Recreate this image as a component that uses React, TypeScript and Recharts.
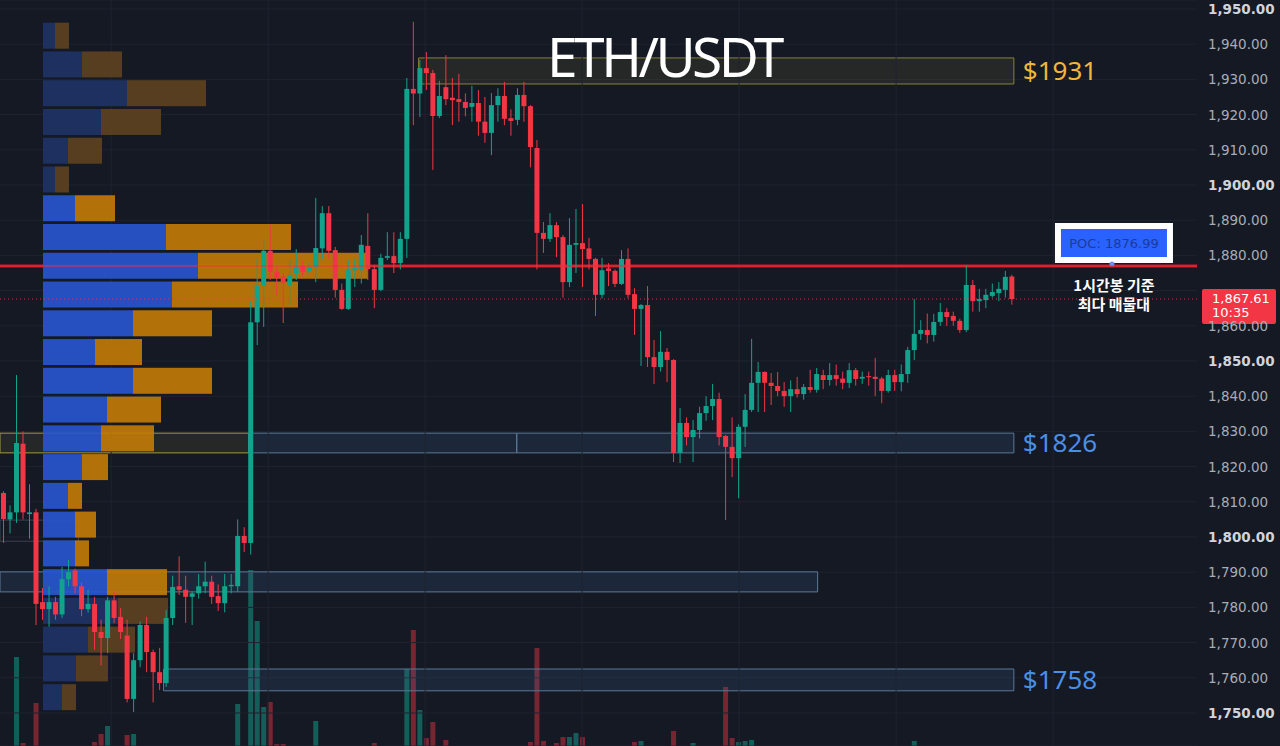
import React from 'react';
import {
  ComposedChart,
  Bar,
  XAxis,
  YAxis,
  CartesianGrid,
  ReferenceLine,
  ReferenceArea,
  ReferenceDot,
} from 'recharts';

// OHLC (one entry per candle, left to right)
const opens = [
  1812.5, 1805, 1807, 1826.5, 1806.5, 1807, 1781.5, 1779.5, 1781.5, 1778,
  1788, 1790.5, 1786, 1779.5, 1781, 1773, 1771.3, 1782, 1777.3, 1772,
  1754, 1765, 1775, 1767.3, 1761.6, 1758.5, 1777, 1786, 1785, 1783,
  1784, 1786, 1787.3, 1783.2, 1781.2, 1786, 1786, 1800.3, 1798.3, 1861,
  1871.3, 1881.3, 1875.3, 1874, 1871.6, 1875, 1877, 1875.6, 1876.7, 1882,
  1892, 1881.5, 1870.2, 1864.8, 1875.8, 1875.8, 1882.7, 1876.1, 1870.2, 1879.3,
  1879.8, 1877.8, 1884.7, 1927.3, 1926, 1933.2, 1931.8, 1919.6, 1927.8, 1924.8,
  1924.4, 1923.6, 1922.2, 1923.3, 1918, 1914.8, 1922.7, 1925.3, 1919, 1918.5,
  1925.6, 1922.4, 1910.5, 1886.4, 1884.7, 1888.6, 1885.2, 1872.4, 1883, 1883.5,
  1882, 1879, 1868.8, 1876.3, 1875.6, 1871.9, 1879, 1869, 1864.8, 1865.9,
  1851.1, 1848.3, 1852.6, 1850.3, 1823.9, 1832.4, 1828.4, 1830.4, 1835.2, 1837.2,
  1839.2, 1828.7, 1825.6, 1822.4, 1831.3, 1836.1, 1843.8, 1846.9, 1843.8, 1842.9,
  1841.5, 1840, 1842, 1840.6, 1842.6, 1841.8, 1846, 1844.6, 1846, 1845,
  1843.8, 1847.4, 1845, 1845.7, 1845.5, 1845, 1841.5, 1846, 1844, 1846.3,
  1853.1, 1857.7, 1858.8, 1857.4, 1861.1, 1863.9, 1862.8, 1861.4, 1858.8, 1871.6,
  1867, 1867.3, 1868.5, 1869.3, 1870.2, 1874,
];
const highs = [
  1813, 1809, 1846, 1830, 1815, 1808, 1785.5, 1786, 1783, 1791.5,
  1793.5, 1791, 1787, 1785, 1783, 1776.5, 1783, 1784.5, 1779.8, 1776.5,
  1767, 1776, 1777.3, 1768, 1768.5, 1779.3, 1789, 1794.5, 1789, 1784.5,
  1789.5, 1793, 1789, 1786.5, 1789.5, 1789.5, 1805, 1802.8, 1867, 1879,
  1884.4, 1888.6, 1876.7, 1875, 1879, 1881.8, 1878.4, 1878, 1896.3, 1894,
  1894, 1882.4, 1872, 1878.8, 1879, 1885.8, 1892, 1877.3, 1880.5, 1886.6,
  1886.6, 1886.6, 1930.4, 1946.4, 1935.5, 1937.8, 1932.7, 1929.6, 1936.9, 1930.4,
  1931.6, 1926, 1928.2, 1927, 1925, 1926.1, 1927.5, 1929.3, 1921.5, 1927.5,
  1929.3, 1922.7, 1912.8, 1889.5, 1892, 1889.5, 1885.8, 1890.6, 1893.2, 1894.6,
  1885, 1879.3, 1879.3, 1877.8, 1876, 1881.5, 1882, 1870.7, 1866.2, 1871.3,
  1856, 1858.5, 1853.7, 1850.5, 1836.6, 1834, 1833.2, 1837, 1840, 1843.5,
  1841, 1829, 1834, 1832, 1840.6, 1856.3, 1849.7, 1847, 1846.6, 1846.9,
  1844, 1844.5, 1845.5, 1843.5, 1847.5, 1848, 1847.5, 1849.4, 1849, 1847,
  1849.4, 1848, 1847, 1847, 1850.9, 1845.5, 1847.5, 1847.5, 1849, 1854,
  1867.6, 1861.6, 1863.5, 1863.4, 1866.5, 1865, 1864, 1862, 1877.3, 1873,
  1870.5, 1870.5, 1872, 1872.4, 1875.6, 1874.5,
];
const lows = [
  1798.3, 1801, 1804, 1805, 1799.5, 1775, 1776.5, 1774.5, 1776.5, 1777,
  1786, 1784, 1777.5, 1778.5, 1768, 1763.5, 1767, 1775.5, 1771, 1753,
  1750.3, 1763, 1761.6, 1753, 1756.5, 1757.4, 1775, 1783.5, 1775.6, 1775,
  1782.5, 1784, 1781, 1779, 1778.6, 1784, 1784.5, 1795.7, 1795, 1854.5,
  1859.7, 1873, 1868.7, 1860.8, 1866, 1873, 1874, 1874.5, 1872.4, 1879,
  1879, 1868, 1864.5, 1864.5, 1871, 1872, 1873, 1865, 1869.8, 1878.7,
  1875, 1876, 1879.3, 1917, 1919.3, 1927, 1904.3, 1919, 1922.7, 1917,
  1918, 1919.5, 1918, 1914, 1912, 1908.5, 1918, 1917, 1914, 1917,
  1918, 1905, 1876, 1880.7, 1883.8, 1879.5, 1868, 1871, 1875, 1871,
  1876, 1862.8, 1867.8, 1871.3, 1871, 1871.6, 1867.8, 1857.4, 1848.6, 1848.3,
  1843.5, 1847, 1844, 1821.3, 1821, 1826, 1821.3, 1828, 1833, 1833.2,
  1826, 1804.8, 1817, 1811, 1825.6, 1835.5, 1835.5, 1835.5, 1837.5, 1840,
  1837, 1835.5, 1839.6, 1839, 1841, 1841, 1842, 1843, 1843, 1842,
  1842.3, 1843, 1843.5, 1843, 1840, 1838, 1841, 1841.5, 1841.4, 1843.8,
  1850.3, 1856, 1855, 1855.5, 1860, 1860, 1860, 1858, 1858.2, 1864,
  1864, 1865, 1868, 1867, 1868, 1866,
];
const closes = [
  1805.1, 1807, 1826.7, 1807, 1807, 1781, 1779.5, 1781.5, 1778, 1788,
  1790, 1786, 1779.5, 1781, 1773, 1771.3, 1782, 1777, 1773, 1754,
  1765, 1775, 1767.3, 1761.6, 1758.5, 1777, 1785.8, 1785, 1783, 1784,
  1786, 1787.3, 1783, 1781.2, 1786, 1786.4, 1800.3, 1798.3, 1861, 1871.3,
  1881.3, 1875.3, 1873.6, 1872.2, 1874.4, 1876.7, 1875.3, 1876.7, 1882.1, 1892,
  1881.3, 1870.2, 1864.8, 1875.8, 1876.5, 1883, 1876.1, 1870.2, 1879.3, 1879.8,
  1877.8, 1884.7, 1927.3, 1926, 1933.2, 1931.8, 1919.6, 1925.3, 1924.4, 1924.1,
  1923.6, 1921.9, 1923.3, 1918, 1914.8, 1922.7, 1925.3, 1918.8, 1918.2, 1925.6,
  1922.4, 1910.8, 1886.4, 1884.7, 1888.6, 1885.2, 1872.4, 1883, 1883.5, 1881.8,
  1879, 1868.8, 1875.8, 1875.6, 1871.9, 1879, 1868.8, 1864.8, 1865.9, 1851.1,
  1848.3, 1852.6, 1850.3, 1823.9, 1832.4, 1828.4, 1830.4, 1835.2, 1837.2, 1839.2,
  1828.4, 1825.6, 1822.4, 1831.3, 1836.1, 1843.8, 1846.9, 1843.8, 1842.9, 1841.5,
  1840, 1842, 1840.6, 1842.6, 1841.8, 1846.3, 1844.6, 1846, 1844.9, 1843.8,
  1847.4, 1844.9, 1845.5, 1845.4, 1844.9, 1841.5, 1846, 1844, 1846.3, 1853.1,
  1857.7, 1858.8, 1857.4, 1861.1, 1863.9, 1862.5, 1861.4, 1858.8, 1871.6, 1867,
  1867.6, 1868.8, 1869.6, 1870.5, 1873.9, 1867.61,
];

// volume (k), only the bars that rise into view
const volumes: Record<number, number> = {
  2: 8.9, 3: 0.3, 5: 4.3, 14: 0.4, 15: 1.2, 16: 2.0, 19: 1.1, 20: 1.2,
  36: 4.2, 38: 17.6, 39: 12.5, 40: 3.9, 41: 4.4, 42: 0.2, 43: 0.2, 48: 2.5,
  57: 0.3, 62: 7.7, 63: 11.6, 64: 3.6, 65: 0.8, 66: 2.4, 68: 0.6,
  81: 0.4, 82: 9.8, 83: 0.5, 85: 0.3, 86: 0.9, 87: 0.9, 88: 1.3, 89: 0.9,
  97: 0.4, 98: 0.5, 103: 1.5, 106: 0.3, 111: 5.9, 112: 0.8, 113: 0.4,
  114: 0.5, 115: 0.6, 140: 0.5,
};

// volume profile rows, top (1946.4) to bottom (1750.3)
const vpHigh = 1946.4;
const vpLow = 1750.3;
const vpBuy = [1.2, 3.9, 8.4, 5.8, 2.5, 1.2, 3.2, 12.3, 15.5, 12.9, 9.0, 5.2, 9.0, 6.4, 5.8, 3.9, 2.5, 3.2, 3.2, 6.4, 7.5, 4.5, 3.3, 1.9];
const vpSell = [1.4, 4.0, 7.9, 6.0, 3.4, 1.4, 4.0, 12.5, 17.0, 12.6, 7.9, 4.7, 7.9, 5.4, 5.3, 2.6, 1.4, 2.1, 1.4, 6.0, 5.0, 4.7, 3.2, 1.4];
const valueAreaRows = [6, 19];

const priceTicks = [
  1740, 1750, 1760, 1770, 1780, 1790, 1800, 1810, 1820, 1830, 1840,
  1850, 1860, 1870, 1880, 1890, 1900, 1910, 1920, 1930, 1940, 1950,
];
const timeGridIdx = [17, 41, 65, 89, 113, 137, 161];

const POC = 1876.99;
const LAST = 1867.61;
const SLOTS = 184;
const Y_DOMAIN = [1740.62, 1952.56];

const BG = '#151924';
const GRID = '#1f2330';
const UP = '#12a38c';
const DOWN = '#f23645';

const data = Array.from({ length: SLOTS }, (_, i) => ({
  i,
  open: opens[i] ?? null,
  high: highs[i] ?? null,
  low: lows[i] ?? null,
  close: closes[i] ?? null,
  vol: i < opens.length ? volumes[i] ?? 0 : null,
}));

const rowH = (vpHigh - vpLow) / vpBuy.length;
const vpRows = vpBuy.map((buy, r) => ({
  mid: vpHigh - (r + 0.5) * rowH,
  buy,
  sell: vpSell[r],
  va: r >= valueAreaRows[0] && r <= valueAreaRows[1],
}));

const fmt = (v: number) =>
  v.toLocaleString('en-US', { minimumFractionDigits: 2, maximumFractionDigits: 2 });

const Candle = (props: any) => {
  const { x, y, width, height, payload } = props;
  if (!payload || payload.open == null) return null;
  const { open, high, low, close } = payload;
  const top = Math.min(y, y + height);
  const h = Math.abs(height);
  const ppu = h / (high - low);
  const color = close >= open ? UP : DOWN;
  const bodyTop = top + (high - Math.max(open, close)) * ppu;
  const bodyH = Math.max(1, Math.abs(open - close) * ppu);
  const cx = x + width / 2;
  return (
    <g>
      <line x1={cx} x2={cx} y1={top} y2={top + h} stroke={color} strokeWidth={1} />
      <rect x={x} y={bodyTop} width={width} height={bodyH} fill={color} />
    </g>
  );
};

const VolBar = (props: any) => {
  const { x, y, width, height, payload } = props;
  if (!payload || !payload.vol) return null;
  const up = payload.close >= payload.open;
  return (
    <rect
      x={x}
      y={Math.min(y, y + height)}
      width={width}
      height={Math.abs(height)}
      fill={up ? UP : DOWN}
      fillOpacity={up ? 0.5 : 0.45}
    />
  );
};

const ProfileBar = (kind: 'buy' | 'sell') => (props: any) => {
  const { x, y, width, height, payload } = props;
  if (!payload) return null;
  const fill =
    kind === 'buy' ? (payload.va ? '#2855d0' : '#1f3366') : payload.va ? '#c47b08' : '#5e4320';
  return <rect x={x} y={y} width={width} height={height} fill={fill} fillOpacity={0.9} />;
};

const PriceTick = ({ x, y, payload }: any) => {
  const v = payload.value;
  // the last-price tag sits over this one
  if (v === 1870) return null;
  const major = v % 50 === 0;
  return (
    <text
      x={x + 3}
      y={y}
      dy={5}
      fill={major ? '#d1d4dc' : '#a9acb6'}
      fontWeight={major ? 700 : 400}
      fontSize={13.5}
      fontFamily="DejaVu Sans"
    >
      {fmt(v)}
    </text>
  );
};

const PocTag = ({ cx, cy }: any) => (
  <g>
    <rect x={cx - 57} y={cy - 43} width={118} height={40} fill="#ffffff" />
    <rect x={cx - 51} y={cy - 37} width={106} height={28} fill="#2962ff" />
    <text x={cx + 2} y={cy - 18} textAnchor="middle" fontSize={13} fill="#1c3b9a" fontFamily="DejaVu Sans">
      {`POC: ${POC.toFixed(2)}`}
    </text>
    <circle cx={cx} cy={cy - 2} r={2.5} fill="#6f8ff0" />
    <text x={cx + 2} y={cy + 25} textAnchor="middle" fontSize={15} fontWeight={700} fill="#ffffff" fontFamily="Noto Sans CJK KR">
      1시간봉 기준
    </text>
    <text x={cx + 2} y={cy + 44} textAnchor="middle" fontSize={15} fontWeight={700} fill="#ffffff" fontFamily="Noto Sans CJK KR">
      최다 매물대
    </text>
  </g>
);

const PriceTag = ({ cx, cy }: any) => (
  <g>
    <rect x={cx + 5} y={cy - 10} width={74} height={35} rx={2} fill={DOWN} />
    <text x={cx + 15} y={cy + 4} fontSize={13} fill="#ffffff" fontFamily="DejaVu Sans">
      {fmt(LAST)}
    </text>
    <text x={cx + 15} y={cy + 18} fontSize={13} fill="#ffffff" fontFamily="DejaVu Sans">
      10:35
    </text>
  </g>
);

const layer: React.CSSProperties = { position: 'absolute', left: 0, top: 0 };

export default function App() {
  const boxLabel = (value: string, fill: string) => ({
    value,
    position: 'right' as const,
    offset: 9,
    fill,
    fontSize: 26,
    fontFamily: 'Noto Sans',
  });

  return (
    <div style={{ position: 'absolute', left: 0, top: 0, width: 1280, height: 746, background: BG, overflow: 'hidden' }}>
      {/* volume pane */}
      <div style={layer}>
        <ComposedChart width={1280} height={746} data={data} margin={{ top: 0, right: 83, left: 0, bottom: 0 }}>
          <XAxis dataKey="i" hide />
          <YAxis hide domain={[0, 74.6]} allowDataOverflow />
          <Bar dataKey="vol" barSize={5} shape={<VolBar />} isAnimationActive={false} />
        </ComposedChart>
      </div>

      {/* grid, price axis, zones */}
      <div style={layer}>
        <ComposedChart width={1280} height={746} data={data} margin={{ top: 0, right: 0, left: 0, bottom: 0 }}>
          <CartesianGrid stroke={GRID} vertical={false} />
          <XAxis dataKey="i" hide />
          <YAxis
            orientation="right"
            width={83}
            domain={Y_DOMAIN}
            allowDataOverflow
            ticks={priceTicks}
            axisLine={false}
            tickLine={false}
            tick={<PriceTick />}
          />
          {timeGridIdx.map((i) => (
            <ReferenceLine key={`g${i}`} x={i} stroke={GRID} />
          ))}

          <ReferenceArea x1={64} x2={155} y1={1936.1} y2={1928.7} fill="#8a8740" fillOpacity={0.14} stroke="#85833f" strokeWidth={1} label={boxLabel('$1931', '#f2b53a')} />
          <ReferenceArea x1={0} x2={38} y1={1829.5} y2={1823.9} fill="#8a8740" fillOpacity={0.14} stroke="#a19a45" strokeWidth={1} />
          <ReferenceArea x1={38} x2={79} y1={1829.5} y2={1823.9} fill="#3d6590" fillOpacity={0.2} stroke="#5b7897" strokeWidth={1} />
          <ReferenceArea x1={79} x2={155} y1={1829.5} y2={1823.9} fill="#3d6590" fillOpacity={0.2} stroke="#5b7897" strokeWidth={1} label={boxLabel('$1826', '#4a8fe7')} />
          <ReferenceArea x1={0} x2={125} y1={1790.1} y2={1784.4} fill="#3d6590" fillOpacity={0.2} stroke="#5b7897" strokeWidth={1} />
          <ReferenceArea x1={25} x2={155} y1={1762.5} y2={1756.3} fill="#3d6590" fillOpacity={0.2} stroke="#5b7897" strokeWidth={1} label={boxLabel('$1758', '#4a8fe7')} />
          <ReferenceArea x1={0} x2={12} y1={1804.8} y2={1798.8} fill="none" stroke="#3b4252" strokeWidth={1} />

          <ReferenceLine y={POC} stroke="#d11a26" strokeWidth={3} />

          <ReferenceDot x={170} y={POC} r={0} shape={<PocTag />} ifOverflow="visible" />
          <ReferenceDot x={183} y={LAST} r={0} shape={<PriceTag />} ifOverflow="visible" />
        </ComposedChart>
      </div>

      {/* volume profile */}
      <div style={layer}>
        <ComposedChart width={1280} height={746} data={vpRows} layout="vertical" margin={{ top: 0, right: 83, left: 0, bottom: 0 }}>
          <XAxis type="number" hide domain={[-4.3, 115.4]} allowDataOverflow />
          <YAxis type="number" dataKey="mid" hide reversed domain={Y_DOMAIN} allowDataOverflow />
          <Bar dataKey="buy" stackId="vp" barSize={26} shape={ProfileBar('buy')} isAnimationActive={false} />
          <Bar dataKey="sell" stackId="vp" barSize={26} shape={ProfileBar('sell')} isAnimationActive={false} />
        </ComposedChart>
      </div>

      {/* candles */}
      <div style={layer}>
        <ComposedChart width={1280} height={746} data={data} margin={{ top: 0, right: 83, left: 0, bottom: 0 }}>
          <XAxis dataKey="i" hide />
          <YAxis hide domain={Y_DOMAIN} allowDataOverflow />
          <ReferenceLine y={POC} stroke="#e0303c" strokeOpacity={0.45} strokeWidth={2} />
          <ReferenceLine y={LAST} stroke={DOWN} strokeDasharray="1 3" strokeOpacity={0.85} />
          <Bar
            dataKey={(d: any) => (d.open == null ? null : [d.low, d.high])}
            barSize={5}
            shape={<Candle />}
            isAnimationActive={false}
          />
        </ComposedChart>
      </div>

      <svg width={1280} height={746} style={{ ...layer, pointerEvents: 'none' }}>
        <text x={547} y={77} fill="#ffffff" fontSize={55} letterSpacing={-3.5} fontFamily="Noto Sans">
          ETH/USDT
        </text>
      </svg>
    </div>
  );
}
